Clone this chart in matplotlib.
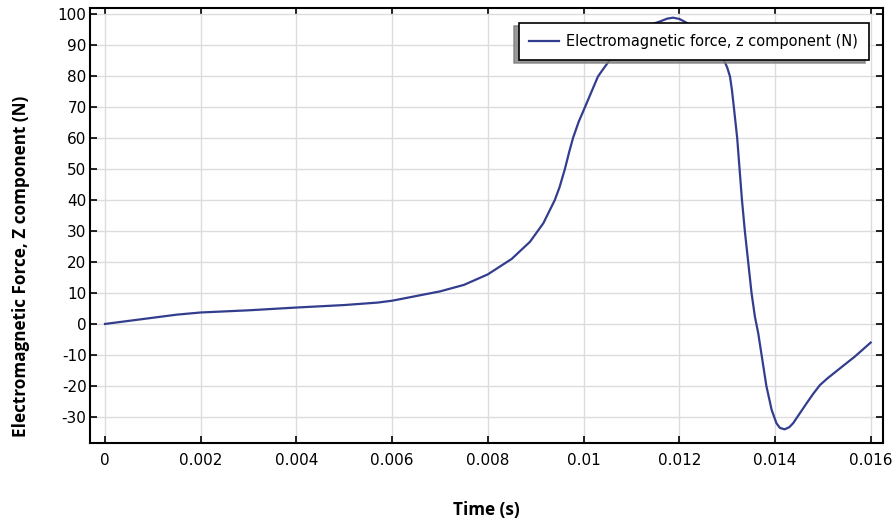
import matplotlib.pyplot as plt

plt.rcParams["axes.unicode_minus"] = False

# values
time_s = [0, 0.0005, 0.001, 0.0015, 0.002, 0.003, 0.004, 0.005, 0.0057, 0.006,
          0.0065, 0.007, 0.0075, 0.008, 0.0085, 0.00888, 0.00916, 0.0094, 0.0095,
          0.00961, 0.0097, 0.00978, 0.0099, 0.00999, 0.0103, 0.0104, 0.01055,
          0.0107, 0.0108, 0.011, 0.0113, 0.0116, 0.01175, 0.01187, 0.012,
          0.0121, 0.0124, 0.0127, 0.01293, 0.013, 0.01306, 0.0131, 0.01314,
          0.01321, 0.01326, 0.01331, 0.01337, 0.01344, 0.01351, 0.01358,
          0.01365, 0.01372, 0.01382, 0.01393, 0.01403, 0.0141, 0.0142, 0.0143,
          0.01438, 0.01466, 0.0148, 0.01494, 0.0151, 0.01536, 0.01567, 0.016]
force_z = [0, 1.0, 2.0, 3.0, 3.7, 4.4, 5.3, 6.1, 6.9, 7.5,
           9.0, 10.5, 12.6, 16.0, 21.0, 26.5, 32.5, 40.0, 44.2,
           50.0, 55.5, 60.0, 65.3, 68.5, 79.8, 82.0, 85.2,
           88.3, 90.0, 93.0, 96.0, 97.6, 98.5, 98.8, 98.4,
           97.6, 95.0, 90.5, 85.2, 82.8, 79.8, 75.5, 70.0,
           60.0, 50.0, 40.0, 30.0, 20.0, 10.0, 2.4,
           -3.0, -10.0, -20.0, -27.7, -32.0, -33.5, -34.0, -33.3,
           -32.0, -25.6, -22.5, -19.7, -17.5, -14.3, -10.5, -6.0]

x_ticks = [0, 0.002, 0.004, 0.006, 0.008, 0.01, 0.012, 0.014, 0.016]
x_ticklabels = ["0", "0.002", "0.004", "0.006", "0.008", "0.01", "0.012", "0.014", "0.016"]
y_ticks = list(range(-30, 101, 10))

fig = plt.figure(figsize=(8.93, 5.24), dpi=100)
ax = fig.add_axes([0.1008, 0.1546, 0.888, 0.830])

ax.plot(time_s, force_z, color="#333d8e", lw=1.6, solid_joinstyle="round",
        label="Electromagnetic force, z component (N)")

ax.set_xlim(-0.000313, 0.016257)
ax.set_ylim(-38.4, 101.9)
ax.set_xticks(x_ticks)
ax.set_xticklabels(x_ticklabels)
ax.set_yticks(y_ticks)
ax.grid(True, color="#dcdcdc", lw=1)
ax.set_axisbelow(True)
ax.tick_params(direction="in", length=5, width=1.2, labelsize=11,
               top=True, right=True)
ax.tick_params(axis="x", pad=7)
ax.tick_params(axis="y", pad=2.5)
for s in ax.spines.values():
    s.set_linewidth(1.5)

ax.set_xlabel("Time (s)", family="Open Sans", fontweight="bold", fontsize=12.3, labelpad=24)
ax.set_ylabel("Electromagnetic Force, Z component (N)", family="Open Sans",
              fontweight="bold", fontsize=12.3)
ax.yaxis.set_label_coords(-0.076, 0.405)

leg = ax.legend(loc="upper right", bbox_to_anchor=(0.982, 0.966), borderaxespad=0,
                fontsize=10.5, fancybox=False, framealpha=1, handlelength=2.0,
                handletextpad=0.5, borderpad=0.75,
                shadow={"ox": -3, "oy": -2, "color": "0.5", "alpha": 0.8})
leg.get_frame().set_edgecolor("black")
leg.get_frame().set_linewidth(1.2)

fig.savefig("out.png", dpi=100)
